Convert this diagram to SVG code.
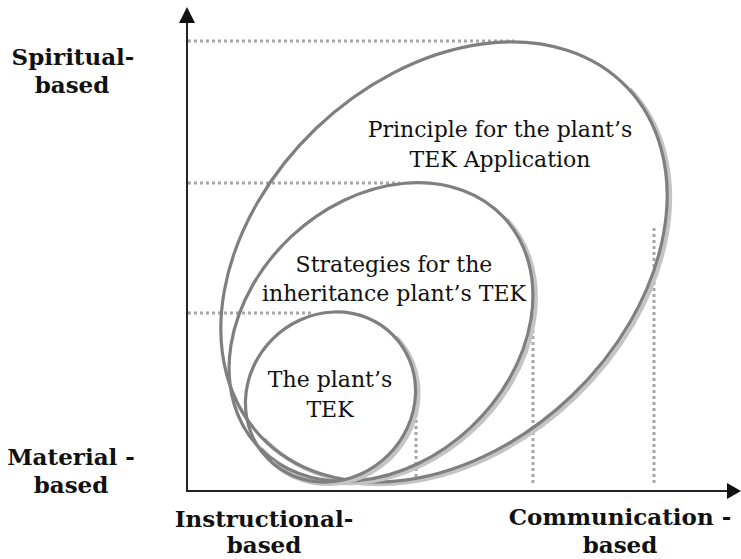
<svg xmlns="http://www.w3.org/2000/svg" width="741" height="559" viewBox="0 0 741 559">
  <style>
    .axis { stroke: #222222; stroke-width: 2; fill: none; }
    .arrow { fill: #111111; }
    .guide { stroke: #a6a6a6; stroke-width: 3; stroke-dasharray: 3 3; fill: none; }
    .ring { stroke: #7f7f7f; stroke-width: 3.2; fill: none; }
    .shade { stroke: #c4c4c4; stroke-width: 4; fill: none; }
    .inner { font-family: "DejaVu Serif", "Liberation Serif", serif; font-size: 22px; fill: #111111; text-anchor: middle; }
    .axlabel { font-family: "DejaVu Serif", "Liberation Serif", serif; font-size: 23px; font-weight: bold; fill: #111111; text-anchor: middle; }
  </style>

  <rect width="741" height="559" fill="#ffffff"/>

  <!-- dotted guide lines from each ring to the axes -->
  <g id="guides">
    <line class="guide" x1="188" y1="41" x2="514" y2="41"/>
    <line class="guide" x1="188" y1="183" x2="400" y2="183"/>
    <line class="guide" x1="188" y1="313" x2="312" y2="313"/>
    <line class="guide" x1="416" y1="390" x2="416" y2="484"/>
    <line class="guide" x1="533" y1="288" x2="533" y2="484"/>
    <line class="guide" x1="654" y1="228" x2="654" y2="484"/>
  </g>

  <!-- axes -->
  <g id="axes">
    <line class="axis" x1="187" y1="491" x2="187" y2="20"/>
    <polygon class="arrow" points="187,7 179,23 195,23"/>
    <line class="axis" x1="186" y1="491" x2="728" y2="491"/>
    <polygon class="arrow" points="741,491 727,483 727,499"/>
  </g>

  <!-- outer ring: principle -->
  <g id="ring-principle">
    <g transform="translate(447,264) rotate(-43.7)">
      <path class="shade" d="M -253 0 A 253 185 0 0 0 253 0"/>
    </g>
    <ellipse class="ring" cx="0" cy="0" rx="253" ry="185" transform="translate(444,262) rotate(-43.7)"/>
    <text class="inner" x="500" y="137">Principle for the plant’s</text>
    <text class="inner" x="500" y="167">TEK Application</text>
  </g>

  <!-- middle ring: strategies -->
  <g id="ring-strategies">
    <g transform="translate(384,334) rotate(-43)">
      <path class="shade" d="M -168 0 A 168 131 0 0 0 168 0"/>
    </g>
    <ellipse class="ring" cx="0" cy="0" rx="168" ry="131" transform="translate(381,332) rotate(-43)"/>
    <text class="inner" x="394" y="272">Strategies for the</text>
    <text class="inner" x="394" y="301">inheritance plant’s TEK</text>
  </g>

  <!-- inner ring: the plant's TEK -->
  <g id="ring-tek">
    <g transform="translate(333.5,399) rotate(-45)">
      <path class="shade" d="M -88 0 A 88 82 0 0 0 88 0"/>
    </g>
    <ellipse class="ring" cx="0" cy="0" rx="88" ry="82" transform="translate(330.5,397) rotate(-45)"/>
    <text class="inner" x="330" y="387">The plant’s</text>
    <text class="inner" x="330" y="417">TEK</text>
  </g>

  <!-- axis labels -->
  <g id="label-spiritual">
    <text class="axlabel" x="73" y="65">Spiritual-</text>
    <text class="axlabel" x="72" y="93">based</text>
  </g>
  <g id="label-material">
    <text class="axlabel" x="71" y="465">Material -</text>
    <text class="axlabel" x="71" y="493">based</text>
  </g>
  <g id="label-instructional">
    <text class="axlabel" x="264" y="527">Instructional-</text>
    <text class="axlabel" x="264" y="553">based</text>
  </g>
  <g id="label-communication">
    <text class="axlabel" x="620" y="525">Communication -</text>
    <text class="axlabel" x="620" y="553">based</text>
  </g>
</svg>
